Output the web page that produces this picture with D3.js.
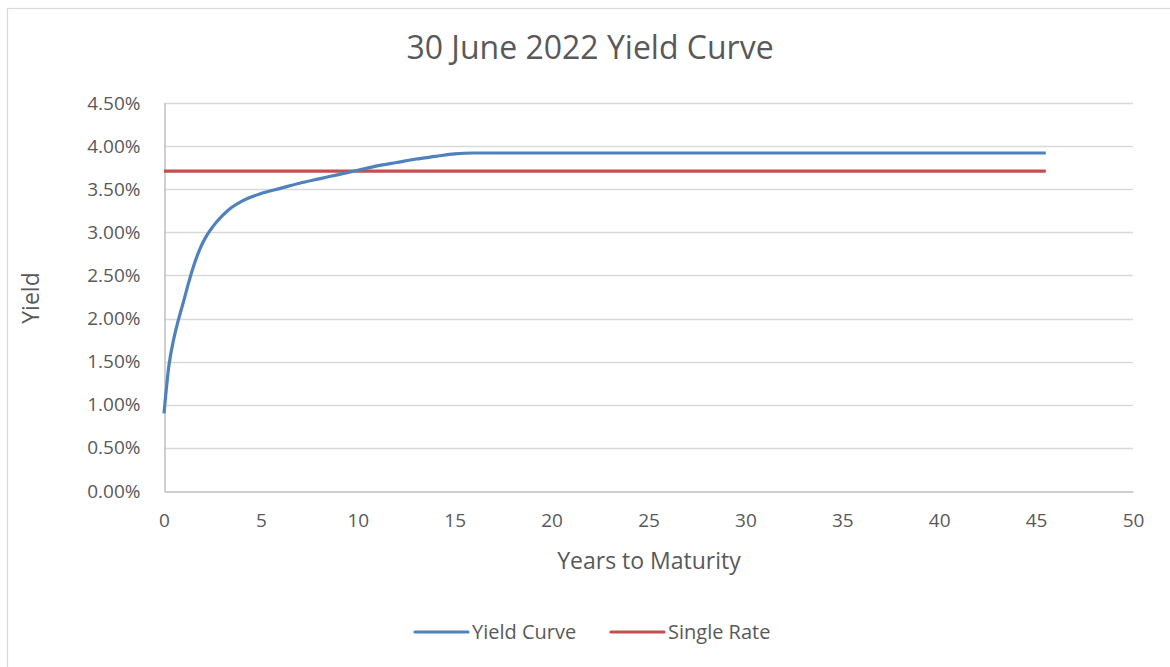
<!DOCTYPE html>
<html>
<head>
<meta charset="utf-8">
<script src="https://cdn.jsdelivr.net/npm/d3@7"></script>
<style>
  html, body { margin: 0; padding: 0; background: #fff; }
  svg { display: block; }
  text { font-family: "Open Sans", sans-serif; fill: #595959; }
</style>
</head>
<body>
<svg id="chart" width="1170" height="667"></svg>
<script>
// ---- Data ----
const title = "30 June 2022 Yield Curve";
const xAxisTitle = "Years to Maturity";
const yAxisTitle = "Yield";
const seriesNames = ["Yield Curve", "Single Rate"];
const seriesColors = ["#4F81BD", "#C0504D"];

const curveYears = [0, 0.25, 0.5, 0.75, 1, 1.25, 1.5, 1.75, 2, 2.25, 2.5, 3, 3.5, 4, 5, 6, 7, 8, 9, 10, 11, 12, 13, 14, 15, 16, 20, 25, 30, 35, 40, 45.5];
const curveYields = [0.0090, 0.0145, 0.0176, 0.0199, 0.0219, 0.0240, 0.0259, 0.0275, 0.0288, 0.0298, 0.0306, 0.0319, 0.0329, 0.0336, 0.0345, 0.0351, 0.0357, 0.0362, 0.0367, 0.0372, 0.0377, 0.0381, 0.0385, 0.0388, 0.0391, 0.0392, 0.0392, 0.0392, 0.0392, 0.0392, 0.0392, 0.0392];

const singleYears = [0, 45.5];
const singleYields = [0.0371, 0.0371];

const xTicks = [0, 5, 10, 15, 20, 25, 30, 35, 40, 45, 50];
const yTicks = [0, 0.005, 0.01, 0.015, 0.02, 0.025, 0.03, 0.035, 0.04, 0.045];

// ---- Layout ----
const svg = d3.select("#chart");
const plot = { left: 164, right: 1133, top: 103, bottom: 491 };

const x = d3.scaleLinear().domain([0, 50]).range([plot.left, plot.right]);
const y = d3.scaleLinear().domain([0, 0.045]).range([plot.bottom, plot.top]);

// outer border
svg.append("rect")
  .attr("x", 7.5).attr("y", 8.5)
  .attr("width", 1180).attr("height", 680)
  .attr("fill", "none").attr("stroke", "#d9d9d9").attr("stroke-width", 1.2);

// title
svg.append("text")
  .attr("x", 590).attr("y", 59)
  .attr("text-anchor", "middle")
  .attr("font-size", 32)
  .text(title);

// gridlines
svg.append("g")
  .selectAll("line")
  .data(yTicks.slice(1))
  .join("line")
  .attr("x1", plot.left).attr("x2", plot.right)
  .attr("y1", d => Math.round(y(d)) + 0.5).attr("y2", d => Math.round(y(d)) + 0.5)
  .attr("stroke", "#d9d9d9").attr("stroke-width", 1.3);

// axes
const yAxis = d3.axisLeft(y).tickValues(yTicks).tickFormat(d3.format(".2%")).tickSize(0).tickPadding(24);
const gy = svg.append("g").attr("transform", `translate(${plot.left + 0.5},0)`).call(yAxis);
gy.select(".domain").attr("stroke", "#bfbfbf").attr("stroke-width", 1.5);
gy.selectAll("text").attr("font-size", 19).attr("fill", "#595959").attr("font-family", "Open Sans");

const xAxis = d3.axisBottom(x).tickValues(xTicks).tickFormat(d3.format("d")).tickSize(0).tickPadding(22);
const gx = svg.append("g").attr("transform", `translate(0,${plot.bottom + 0.5})`).call(xAxis);
gx.select(".domain").attr("stroke", "#bfbfbf").attr("stroke-width", 1.5);
gx.selectAll("text").attr("font-size", 19).attr("fill", "#595959").attr("font-family", "Open Sans");

// axis titles
svg.append("text")
  .attr("x", 649).attr("y", 569)
  .attr("text-anchor", "middle")
  .attr("font-size", 23)
  .text(xAxisTitle);

svg.append("text")
  .attr("transform", "translate(39,298) rotate(-90)")
  .attr("text-anchor", "middle")
  .attr("font-size", 23)
  .text(yAxisTitle);

// lines
const line = d3.line().x(d => x(d[0])).y(d => y(d[1]));
const curveData = curveYears.map((v, i) => [v, curveYields[i]]);
const singleData = singleYears.map((v, i) => [v, singleYields[i]]);

svg.append("path")
  .datum(singleData)
  .attr("d", line)
  .attr("fill", "none").attr("stroke", seriesColors[1]).attr("stroke-width", 3.2);

svg.append("path")
  .datum(curveData)
  .attr("d", line.curve(d3.curveMonotoneX))
  .attr("fill", "none").attr("stroke", seriesColors[0]).attr("stroke-width", 3.2)
  .attr("stroke-linejoin", "round");

// legend
const legendItems = [
  { name: seriesNames[0], color: seriesColors[0], x: 415 },
  { name: seriesNames[1], color: seriesColors[1], x: 611 }
];
const lg = svg.append("g");
legendItems.forEach(it => {
  lg.append("line")
    .attr("x1", it.x).attr("x2", it.x + 53)
    .attr("y1", 632).attr("y2", 632)
    .attr("stroke", it.color).attr("stroke-width", 3.2).attr("stroke-linecap", "round");
  lg.append("text")
    .attr("x", it.x + 57).attr("y", 639)
    .attr("font-size", 20)
    .text(it.name);
});
</script>
</body>
</html>
